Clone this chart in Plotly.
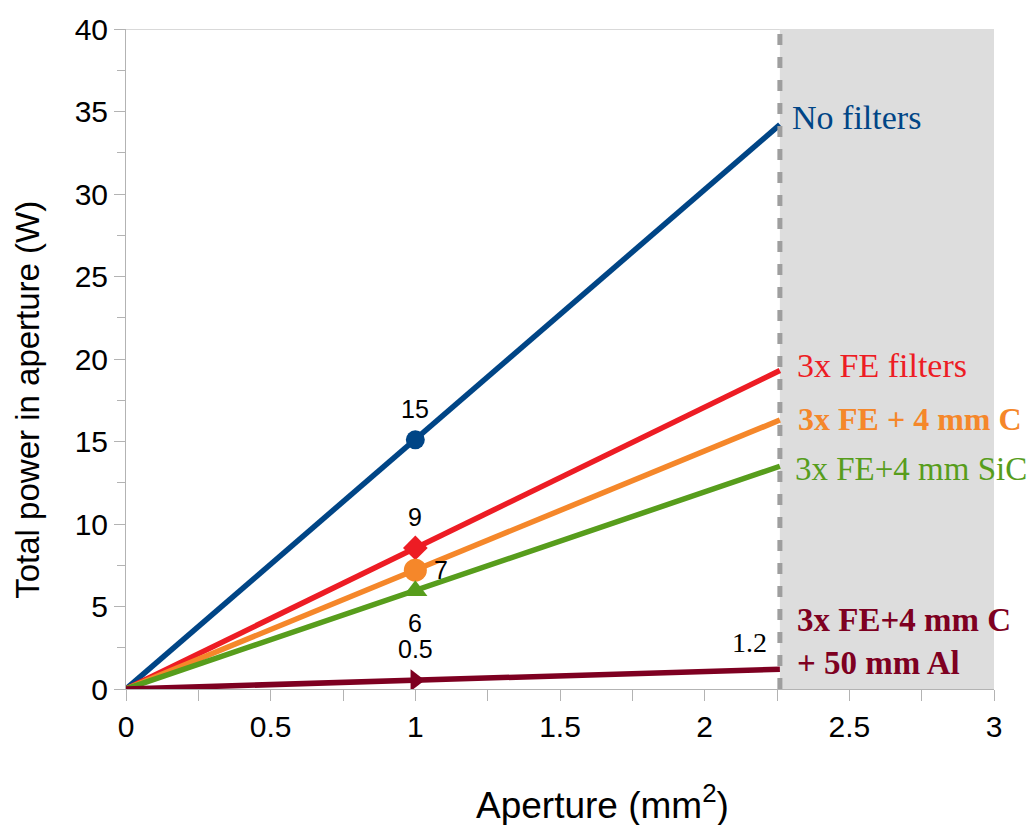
import plotly.graph_objects as go

# Aperture area (mm^2) and total power in the aperture (W) for each filter stack
aperture = [0, 1, 2.26]
no_filters = [0, 15.1, 34.2]
fe_filters = [0, 8.55, 19.3]
fe_carbon = [0, 7.2, 16.3]
fe_sic = [0, 5.95, 13.5]
fe_carbon_al = [0, 0.53, 1.2]

series_names = [
    "No filters",
    "3x FE filters",
    "<b>3x FE + 4 mm C</b>",
    "3x FE+4 mm SiC",
    "<b>3x FE+4 mm C<br>+ 50 mm Al</b>",
]
x_ticks = [0, 0.5, 1, 1.5, 2, 2.5, 3]
y_ticks = [0, 5, 10, 15, 20, 25, 30, 35, 40]
aperture_limit = 2.26
x_range = [0, 3]
y_range = [0, 40]

SANS = "Liberation Sans, Arial, sans-serif"
SERIF = "Liberation Serif, Times New Roman, serif"
AXIS_GREY = "#b3b3b3"

series = [
    # values, colour, marker symbol, marker size, name offsets (px), name font size
    (no_filters, "#004586", "circle", 19, (10, 7), 34),
    (fe_filters, "#ed1c24", "diamond", 19, (15, 5), 34),
    (fe_carbon, "#f5872a", "circle", 23, (16, 1), 32),
    (fe_sic, "#579d1c", "triangle-up", 21, (13, -3), 33),
    (fe_carbon_al, "#7e0021", "triangle-right", 19, (15, 28), 33),
]

fig = go.Figure()

for (vals, color, symbol, msize, _, _), name in zip(series, series_names):
    fig.add_trace(go.Scatter(
        x=aperture, y=vals, mode="lines", name=name,
        line=dict(color=color, width=5.5),
        showlegend=False, hoverinfo="x+y",
    ))
    # marker at 1 mm^2
    fig.add_trace(go.Scatter(
        x=[aperture[1]], y=[vals[1]], mode="markers", name=name,
        marker=dict(symbol=symbol, color=color, size=msize, opacity=1,
                    line=dict(width=0)),
        showlegend=False, hoverinfo="x+y",
    ))

annotations = []

# Series names to the right of the aperture limit
for (vals, color, _, _, (dx, dy), fsize), name in zip(series, series_names):
    annotations.append(dict(
        x=aperture[-1], y=vals[-1], text=name, showarrow=False,
        xanchor="left", yanchor="middle", xshift=dx, yshift=dy,
        align="left",
        font=dict(family=SERIF, size=fsize, color=color),
    ))

# Value labels at 1 mm^2
label_offsets = [(0, 31), (0, 31), (26, 0), (0, -32), (0, 31)]
for (vals, *_), (dx, dy) in zip(series, label_offsets):
    v = vals[1]
    txt = f"{v:.1f}" if v < 1 else f"{v:.0f}"
    annotations.append(dict(
        x=aperture[1], y=v, text=txt, showarrow=False,
        xanchor="center", yanchor="middle", xshift=dx, yshift=dy,
        font=dict(family=SANS, size=25, color="#000000"),
    ))

# Value label at the aperture limit for the most filtered beam
annotations.append(dict(
    x=aperture[-1], y=fe_carbon_al[-1], text=f"{fe_carbon_al[-1]:.1f}",
    showarrow=False, xanchor="center", yanchor="middle",
    xshift=-30, yshift=27,
    font=dict(family=SERIF, size=28, color="#000000"),
))

# Axis titles
annotations.append(dict(
    xref="paper", yref="paper", x=(602 - 126) / 868, y=-(803 - 689) / 664,
    text="Aperture (mm<sup>2</sup>)", showarrow=False,
    xanchor="center", yanchor="middle",
    font=dict(family=SANS, size=37, color="#000000"),
))
annotations.append(dict(
    xref="paper", yref="paper", x=(28 - 126) / 868, y=(689 - 398) / 664,
    text="Total power in aperture (W)", showarrow=False, textangle=-90,
    xanchor="center", yanchor="middle",
    font=dict(family=SANS, size=33, color="#000000"),
))

shapes = [
    # shaded region beyond the aperture limit
    dict(type="rect", xref="x", yref="y", x0=aperture_limit, x1=x_range[1],
         y0=y_range[0], y1=y_range[1], fillcolor="#dddddd",
         line=dict(width=0), layer="below"),
    # top frame line
    dict(type="line", xref="x", yref="y", x0=x_range[0], x1=aperture_limit,
         y0=y_range[1], y1=y_range[1], line=dict(color=AXIS_GREY, width=1),
         layer="below"),
    # aperture limit marker
    dict(type="line", xref="x", yref="y", x0=aperture_limit, x1=aperture_limit,
         y0=y_range[0], y1=y_range[1] - 0.3,
         line=dict(color="#9e9e9e", width=5, dash="11px,12px"), layer="above"),
]

fig.update_layout(
    width=1033, height=825, autosize=False,
    margin=dict(l=126, r=39, t=25, b=136),
    paper_bgcolor="white", plot_bgcolor="white",
    annotations=annotations, shapes=shapes,
    xaxis=dict(
        range=x_range, tickvals=x_ticks, ticktext=[f"{t:g}" for t in x_ticks],
        ticks="outside", ticklen=11, tickcolor=AXIS_GREY, tickwidth=1,
        showline=True, linecolor=AXIS_GREY, linewidth=1,
        showgrid=False, zeroline=False,
        minor=dict(tick0=0, dtick=0.25, ticks="outside", ticklen=11,
                   tickcolor=AXIS_GREY, showgrid=False),
        tickfont=dict(family=SANS, size=30, color="#000000"),
    ),
    yaxis=dict(
        range=y_range, tickvals=y_ticks, ticktext=[str(t) for t in y_ticks],
        ticks="outside", ticklen=11, tickcolor=AXIS_GREY, tickwidth=1,
        showline=True, linecolor=AXIS_GREY, linewidth=1,
        showgrid=False, zeroline=False,
        minor=dict(tick0=0, dtick=2.5, ticks="outside", ticklen=8,
                   tickcolor=AXIS_GREY, showgrid=False),
        tickfont=dict(family=SANS, size=30, color="#000000"),
    ),
)

fig.write_html("out.html")
